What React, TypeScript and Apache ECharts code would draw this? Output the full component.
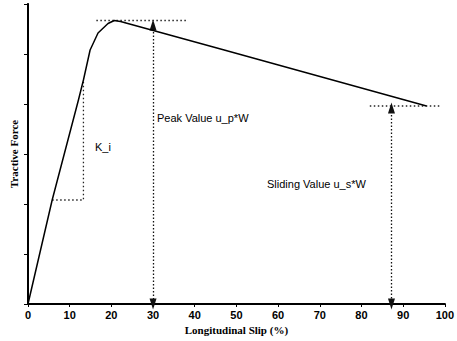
import React, { useEffect, useRef } from "react";
import * as echarts from "echarts";

// Main tractive force curve (slip %, force in axis units)
const slip = [0, 5.8, 12.1, 13.3, 14.9, 16.8, 19.2, 20.7, 22.2, 46.2, 95.6];
const force = [0, 2.08, 4.08, 4.48, 5.08, 5.42, 5.61, 5.67, 5.65, 5.1, 3.96];

// Slope triangle K_i
const kTriX = [5.8, 13.3, 13.3];
const kTriY = [2.08, 2.08, 4.5];

// Peak guide (horizontal dotted)
const peakGuideX = [16.4, 38];
const peakGuideY = [5.67, 5.67];

// Sliding guide (horizontal dotted)
const slideGuideX = [82, 98.7];
const slideGuideY = [3.96, 3.96];

// Arrows: [slip, top value]
const peakArrow = [30, 5.58];
const slideArrow = [87.2, 3.92];

const xTicks = [0, 10, 20, 30, 40, 50, 60, 70, 80, 90, 100];

const labels = {
  peak: "Peak Value u_p*W",
  k: "K_i",
  slide: "Sliding Value u_s*W",
  xName: "Longitudinal Slip (%)",
  yName: "Tractive Force",
};

const zip = (a: number[], b: number[]) => a.map((v, i) => [v, b[i]]);

export default function App() {
  const ref = useRef<HTMLDivElement>(null);
  useEffect(() => {
    if (!ref.current) return;
    const chart = echarts.init(ref.current, undefined, { renderer: "svg" });
    const dotted = { color: "#222", width: 1.3, type: [1.5, 2.5] as any };
    chart.setOption({
      animation: false,
      backgroundColor: "#fff",
      grid: { left: 24, right: 7, top: 4, bottom: 37 },
      xAxis: [
        {
          type: "value",
          min: xTicks[0],
          max: xTicks[xTicks.length - 1],
          interval: 10,
          position: "bottom",
          name: labels.xName,
          nameLocation: "middle",
          nameGap: 20,
          nameTextStyle: {
            fontFamily: "Liberation Serif",
            fontWeight: "bold",
            fontSize: 11,
            color: "#000",
          },
          axisLine: { show: true, lineStyle: { color: "#000", width: 2 } },
          axisTick: { show: true, length: 3, lineStyle: { color: "#000" } },
          axisLabel: {
            fontFamily: "Liberation Sans",
            fontWeight: "bold",
            fontSize: 11,
            color: "#000",
            margin: 5,
          },
          splitLine: { show: false },
        },
        {
          type: "value",
          min: 0,
          max: 100,
          interval: 10,
          position: "top",
          axisLine: { show: true, lineStyle: { color: "#000", width: 1.5 } },
          axisTick: { show: false },
          axisLabel: { show: false },
          splitLine: { show: false },
        },
      ],
      yAxis: [
        {
          type: "value",
          min: 0,
          max: 6,
          interval: 1,
          position: "left",
          name: labels.yName,
          nameLocation: "middle",
          nameGap: 9,
          nameTextStyle: {
            fontFamily: "Liberation Serif",
            fontWeight: "bold",
            fontSize: 11,
            color: "#000",
          },
          axisLine: { show: true, lineStyle: { color: "#000", width: 2 } },
          axisTick: { show: true, length: 4, lineStyle: { color: "#000" } },
          axisLabel: { show: false },
          splitLine: { show: false },
        },
        {
          type: "value",
          min: 0,
          max: 6,
          interval: 1,
          position: "right",
          axisLine: { show: true, lineStyle: { color: "#000", width: 1.5 } },
          axisTick: { show: true, inside: true, length: 3, lineStyle: { color: "#000" } },
          axisLabel: { show: false },
          splitLine: { show: false },
        },
      ],
      series: [
        {
          type: "line",
          data: zip(slip, force),
          showSymbol: false,
          symbol: "none",
          lineStyle: { color: "#000", width: 1.5 },
          z: 5,
          markLine: {
            silent: true,
            symbol: ["triangle", "triangle"],
            symbolSize: [7, 11],
            label: { show: false },
            lineStyle: { color: "#111", width: 1.3, type: [1.5, 2] as any },
            data: [
              [{ coord: [peakArrow[0], peakArrow[1]] }, { coord: [peakArrow[0], 0] }],
              [{ coord: [slideArrow[0], slideArrow[1]] }, { coord: [slideArrow[0], 0] }],
            ],
          },
        },
        {
          type: "line",
          data: zip(kTriX, kTriY),
          symbol: "none",
          lineStyle: dotted,
        },
        {
          type: "line",
          data: zip(peakGuideX, peakGuideY),
          symbol: "none",
          lineStyle: dotted,
        },
        {
          type: "line",
          data: zip(slideGuideX, slideGuideY),
          symbol: "none",
          lineStyle: dotted,
        },
      ],
      graphic: [
        {
          type: "text",
          left: 157,
          top: 112,
          style: { text: labels.peak, font: "11px 'Liberation Sans'", fill: "#000" },
        },
        {
          type: "text",
          left: 95,
          top: 141,
          style: { text: labels.k, font: "11px 'Liberation Sans'", fill: "#000" },
        },
        {
          type: "text",
          left: 267,
          top: 178,
          style: { text: labels.slide, font: "11px 'Liberation Sans'", fill: "#000" },
        },
      ],
    });
    return () => chart.dispose();
  }, []);
  return (
    <div
      ref={ref}
      style={{ position: "absolute", left: 0, top: 0, width: 457, height: 341 }}
    />
  );
}
